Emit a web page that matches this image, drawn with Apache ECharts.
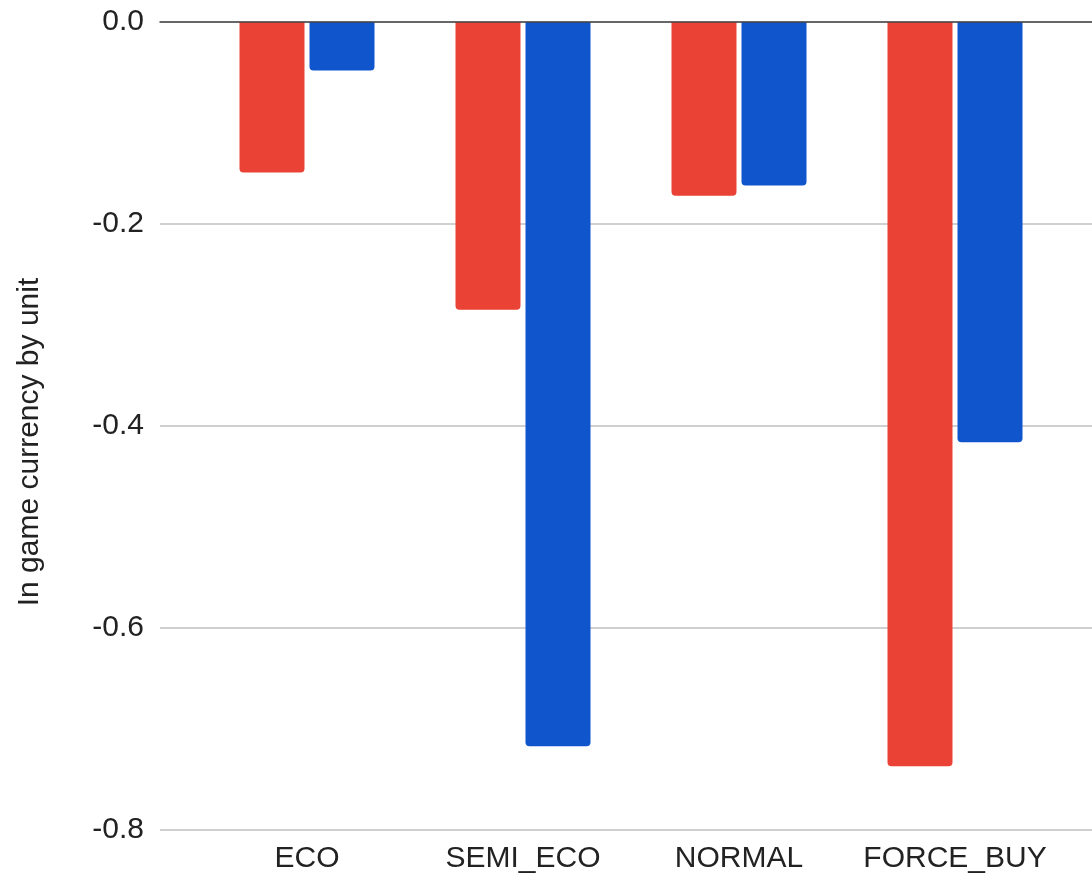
<!DOCTYPE html>
<html>
<head>
<meta charset="utf-8">
<script src="https://cdn.jsdelivr.net/npm/echarts@6/dist/echarts.min.js"></script>
<style>
  html, body { margin: 0; padding: 0; background: #fff; }
  #chart { width: 1092px; height: 876px; }
</style>
</head>
<body>
<div id="chart"></div>
<script>
// Round types and the two series plotted for each
const categories = ['ECO', 'SEMI_ECO', 'NORMAL', 'FORCE_BUY'];
const redValues = [-0.149, -0.285, -0.172, -0.737];
const blueValues = [-0.048, -0.717, -0.162, -0.416];
const yTicks = { min: -0.8, max: 0, interval: 0.2 };
const yAxisTitle = 'In game currency by unit';

const FONT = '"Liberation Sans", Arial, sans-serif';
const TEXT = '#222222';

const chart = echarts.init(document.getElementById('chart'), null, { renderer: 'canvas' });

chart.setOption({
  backgroundColor: '#ffffff',
  animation: false,
  grid: [
    // bars
    { left: 199, right: 29, top: 22, bottom: 46, containLabel: false, outerBoundsMode: 'none' },
    // full-width gridlines, value labels and baseline
    { left: 160, right: 0, top: 22, bottom: 46, containLabel: false, outerBoundsMode: 'none' }
  ],
  xAxis: [
    {
      gridIndex: 0,
      type: 'category',
      data: categories,
      axisLine: { show: false },
      axisTick: { show: false },
      splitLine: { show: false },
      axisLabel: { interval: 0, hideOverlap: false, fontFamily: FONT, fontSize: 30, color: TEXT, margin: 14 }
    },
    {
      gridIndex: 1,
      type: 'value',
      position: 'top',
      min: 0, max: 1,
      z: 10,
      axisLine: { show: true, onZero: false, lineStyle: { color: '#444444', width: 1.5 } },
      axisTick: { show: false },
      axisLabel: { show: false },
      splitLine: { show: false }
    }
  ],
  yAxis: [
    {
      gridIndex: 0,
      type: 'value',
      min: yTicks.min, max: yTicks.max, interval: yTicks.interval,
      axisLine: { show: false },
      axisTick: { show: false },
      axisLabel: { show: false },
      splitLine: { show: false }
    },
    {
      gridIndex: 1,
      type: 'value',
      min: yTicks.min, max: yTicks.max, interval: yTicks.interval,
      name: yAxisTitle,
      nameLocation: 'middle',
      nameGap: 115,
      nameTextStyle: { fontFamily: FONT, fontSize: 30, color: TEXT, padding: [0, 32, 0, 0] },
      axisLine: { show: false },
      axisTick: { show: false },
      axisLabel: {
        fontFamily: FONT, fontSize: 30, color: TEXT, margin: 16,
        formatter: v => v.toFixed(1)
      },
      splitLine: { show: true, lineStyle: { color: '#d0d0d0', width: 2 } }
    }
  ],
  series: [
    {
      type: 'bar',
      xAxisIndex: 0, yAxisIndex: 0,
      data: redValues,
      barWidth: 65,
      barGap: '7.7%',
      itemStyle: { color: '#ea4335', borderRadius: [0, 0, 4, 4] }
    },
    {
      type: 'bar',
      xAxisIndex: 0, yAxisIndex: 0,
      data: blueValues,
      barWidth: 65,
      barGap: '7.7%',
      itemStyle: { color: '#1155cc', borderRadius: [0, 0, 4, 4] }
    }
  ]
});
</script>
</body>
</html>
